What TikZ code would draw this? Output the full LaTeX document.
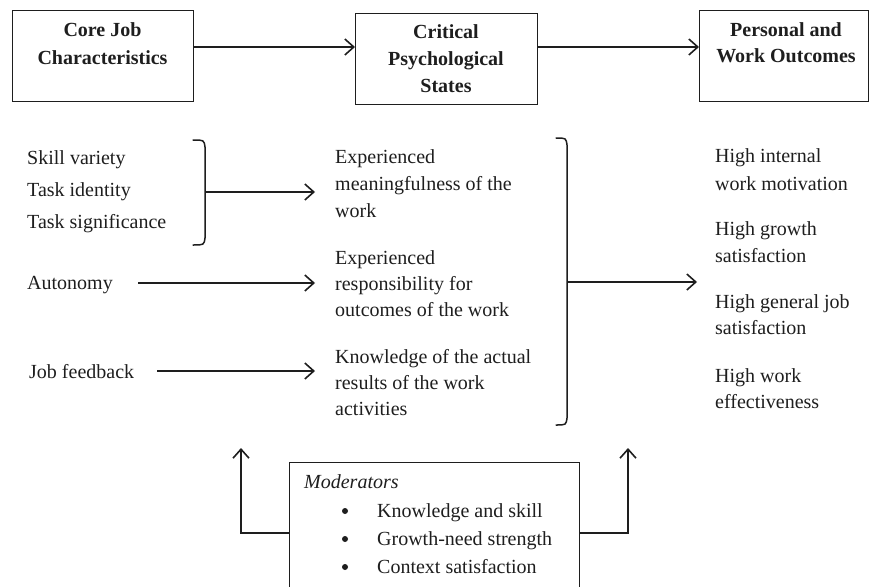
\documentclass[tikz,border=0pt]{standalone}
\usepackage{fontspec}
\setmainfont{Liberation Serif}
\usetikzlibrary{arrows.meta}
\definecolor{ink}{RGB}{30,30,30}
\begin{document}
\begin{tikzpicture}[x=1pt,y=-1pt,
  txt/.style={anchor=base west, inner sep=0pt, font=\fontsize{20}{24}\selectfont, text=ink},
  hd/.style={anchor=base, inner sep=0pt, font=\fontsize{20}{24}\selectfont\bfseries, text=ink},
  bul/.style={circle, fill=ink, inner sep=0pt, minimum size=6pt},
  boxline/.style={draw=ink, line width=1.4pt, inner sep=0pt, anchor=north west},
  arr/.style={draw=ink, line width=1.6pt, -{Straight Barb[length=9pt,width=16pt,line width=1.6pt]}},
  ln/.style={draw=ink, line width=1.5pt, line cap=round}]
\useasboundingbox (0,0) rectangle (869,586);
\fill[white] (0,0) rectangle (869,586);

% top boxes
\node[boxline, minimum width=181pt, minimum height=91pt] (b1) at (12,10) {};
\node[boxline, minimum width=182pt, minimum height=91pt] (b2) at (355,13) {};
\node[boxline, minimum width=169pt, minimum height=91pt] (b3) at (699,10) {};
\node[hd] (b1t1) at (102.5,37) {Core Job};
\node[hd] (b1t2) at (102.5,64) {Characteristics};
\node[hd] (b2t1) at (446,38) {Critical};
\node[hd] (b2t2) at (446,65) {Psychological};
\node[hd] (b2t3) at (446,92) {States};
\node[hd] (b3t1) at (786,37) {Personal and};
\node[hd] (b3t2) at (786,63) {Work Outcomes};
\coordinate (t1) at (0,47);
\draw[arr] (b1.east |- t1) -- (b2.west |- t1);
\draw[arr] (b2.east |- t1) -- (b3.west |- t1);

% left column
\node[txt] (sv) at (27,164) {Skill variety};
\node[txt] (ti) at (27,196) {Task identity};
\node[txt] (ts) at (27,228) {Task significance};
\node[txt] (au) at (27,289) {Autonomy};
\node[txt] (jf) at (29,378) {Job feedback};

% left bracket
\draw[ln] (193,140) .. controls (204,140) .. (205,147) -- (205,238) .. controls (204,245) .. (193,245);
\coordinate (br1) at (205,192);
\coordinate (m1) at (315,192);
\draw[arr] (br1) -- (m1);
\coordinate (au1) at (138,283);
\coordinate (au2) at (315,283);
\draw[arr] (au1) -- (au2);
\coordinate (jf1) at (157,371);
\coordinate (jf2) at (315,371);
\draw[arr] (jf1) -- (jf2);

% middle column
\node[txt] (ea1) at (335,163) {Experienced};
\node[txt] (ea2) at (335,190) {meaningfulness of the};
\node[txt] (ea3) at (335,217) {work};
\node[txt] (eb1) at (335,264) {Experienced};
\node[txt] (eb2) at (335,290) {responsibility for};
\node[txt] (eb3) at (335,316) {outcomes of the work};
\node[txt] (ec1) at (335,363) {Knowledge of the actual};
\node[txt] (ec2) at (335,389) {results of the work};
\node[txt] (ec3) at (335,415) {activities};

% right bracket
\draw[ln] (556,138) .. controls (566,138) .. (567,145) -- (567,418) .. controls (566,425) .. (556,425);
\coordinate (br2) at (567,282);
\coordinate (r1) at (697,282);
\draw[arr] (br2) -- (r1);

% right column
\node[txt] (o1a) at (715,162) {High internal};
\node[txt] (o1b) at (715,190) {work motivation};
\node[txt] (o2a) at (715,235) {High growth};
\node[txt] (o2b) at (715,262) {satisfaction};
\node[txt] (o3a) at (715,308) {High general job};
\node[txt] (o3b) at (715,334) {satisfaction};
\node[txt] (o4a) at (715,382) {High work};
\node[txt] (o4b) at (715,408) {effectiveness};

% moderators
\begin{scope}
\clip (0,0) rectangle (869,586);
\node[boxline, minimum width=290pt, minimum height=160pt] (mod) at (289,462) {};
\end{scope}
\node[txt, font=\fontsize{20}{24}\selectfont\itshape] (modt) at (304,488) {Moderators};
\node[bul] (bu1) at (345,511) {};
\node[bul] (bu2) at (345,539) {};
\node[bul] (bu3) at (345,567) {};
\node[txt] (k1) at (377,517) {Knowledge and skill};
\node[txt] (k2) at (377,545) {Growth-need strength};
\node[txt] (k3) at (377,573) {Context satisfaction};
\coordinate (ml) at (0,533);
\coordinate (ul) at (241,448);
\coordinate (ur) at (628,448);
\draw[arr] (mod.west |- ml) -| (ul);
\draw[arr] (mod.east |- ml) -| (ur);
\end{tikzpicture}
\end{document}
